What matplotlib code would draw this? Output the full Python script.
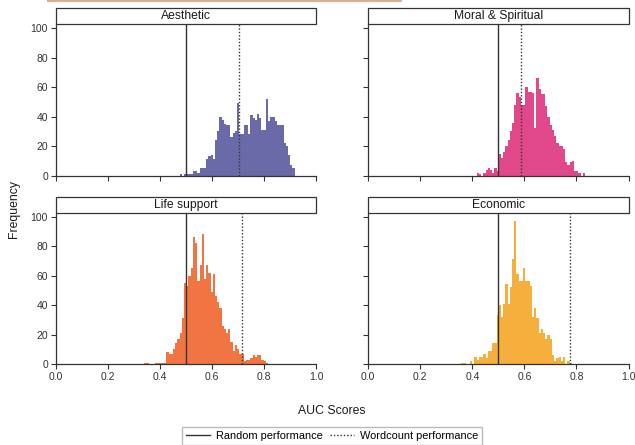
import numpy as np
import matplotlib
matplotlib.use('Agg')
import matplotlib.pyplot as plt
from matplotlib.patches import Rectangle
from matplotlib.lines import Line2D

plt.rcParams['font.family'] = ['Liberation Sans', 'DejaVu Sans']

# Data: histogram counts of AUC scores, shared bins (edges = BIN_LO + k * BIN_W)
BIN_LO = 0.34
BIN_W = 0.0085

panels = ['Aesthetic', 'Moral & Spiritual', 'Life support', 'Economic']
first_bin = [16, 9, 0, 2]

aesthetic = [1, 0, 1, 1, 1, 1, 3, 3, 2, 5, 5, 5, 11, 13, 14, 11, 24, 30, 40, 38,
             35, 34, 34, 26, 29, 30, 49, 28, 28, 34, 34, 28, 41, 39, 38, 42, 39,
             31, 31, 52, 37, 40, 40, 37, 34, 34, 34, 22, 20, 14, 7, 5]
moral = [2, 1, 0, 2, 4, 5, 4, 2, 5, 3, 15, 12, 16, 20, 24, 30, 36, 48, 56, 53,
         48, 48, 60, 57, 57, 56, 32, 66, 59, 55, 55, 47, 40, 34, 31, 27, 22, 20,
         20, 18, 9, 7, 9, 10, 3, 3, 2, 0, 2]
life_support = [1, 1, 0, 0, 0, 1, 1, 1, 1, 1, 8, 7, 7, 10, 14, 17, 21, 31, 55,
                53, 60, 65, 86, 82, 56, 67, 88, 58, 67, 62, 49, 61, 46, 42, 38,
                26, 24, 21, 24, 15, 9, 13, 10, 7, 7, 2, 3, 3, 4, 6, 5, 6, 6, 3,
                2, 1]
economic = [1, 1, 0, 0, 2, 0, 5, 3, 5, 5, 7, 4, 9, 9, 14, 14, 33, 40, 32, 41,
            54, 41, 52, 71, 97, 61, 56, 56, 65, 56, 56, 53, 32, 38, 31, 21, 24,
            21, 17, 20, 17, 6, 2, 4, 5, 2, 5, 0, 2, 1]
counts = [aesthetic, moral, life_support, economic]

random_auc = 0.5
wordcount_auc = [0.705, 0.586, 0.717, 0.777]

colors = ['#6b6aa8', '#e0488a', '#f07542', '#f6af3d']
x_ticks = [0.0, 0.2, 0.4, 0.6, 0.8, 1.0]
y_ticks = [0, 20, 40, 60, 80, 100]

dark = '#333333'
dots = (0, (1, 1.4))

# Layout in pixels (figure is 635 x 445)
W, H = 635, 445
fig = plt.figure(figsize=(W / 100, H / 100), dpi=100)
boxes = [(55.7, 316.0, 24.0, 175.7), (368.3, 628.5, 24.0, 175.7),
         (55.7, 316.0, 212.7, 364.0), (368.3, 628.5, 212.7, 364.0)]
strip_px = 15.8

for i, (x0, x1, yt, yb) in enumerate(boxes):
    ax = fig.add_axes([x0 / W, 1 - yb / H, (x1 - x0) / W, (yb - yt) / H])
    edges = BIN_LO + BIN_W * np.arange(first_bin[i], first_bin[i] + len(counts[i]) + 1)
    ax.stairs(counts[i], edges, fill=True, color=colors[i], lw=0)
    ax.axvline(random_auc, color=dark, lw=1.0)
    ax.axvline(wordcount_auc[i], color=dark, lw=1.0, ls=dots)

    ax.set_xlim(0, 1)
    ax.set_ylim(0, 102.7)
    ax.set_xticks(x_ticks)
    ax.set_yticks(y_ticks)
    ax.set_xticklabels([f'{t:.1f}' for t in x_ticks])
    for s in ['top', 'right']:
        ax.spines[s].set_visible(False)
    for s in ['left', 'bottom']:
        ax.spines[s].set_color(dark)
        ax.spines[s].set_linewidth(0.9)
    ax.tick_params(direction='out', length=3.5, width=0.8, color=dark,
                   labelsize=7.5, labelcolor=dark, pad=2)
    if i < 2:
        ax.tick_params(labelbottom=False)
    if i % 2 == 1:
        ax.tick_params(labelleft=False)

    # facet strip
    h = strip_px / (yb - yt)
    ax.add_patch(Rectangle((0, 1), 1, h, transform=ax.transAxes, facecolor='white',
                           edgecolor=dark, lw=0.9, clip_on=False))
    ax.text(0.5, 1 + h / 2, panels[i], transform=ax.transAxes, ha='center',
            va='center', fontsize=8.7, color='#1a1a1a')

fig.text(14 / W, 1 - 209 / H, 'Frequency', rotation=90, ha='center', va='center',
         fontsize=8.8, color='#1a1a1a')
fig.text(332 / W, 1 - 411 / H, 'AUC Scores', ha='center', va='center',
         fontsize=8.8, color='#1a1a1a')

handles = [Line2D([], [], color=dark, lw=1.0), Line2D([], [], color=dark, lw=1.0, ls=dots)]
fig.legend(handles, ['Random performance', 'Wordcount performance'], loc='center',
           bbox_to_anchor=(332 / W, 1 - 436 / H), ncol=2, fontsize=7.9, frameon=True,
           fancybox=False, edgecolor='#bbbbbb', framealpha=1, handlelength=2.2,
           handletextpad=0.5, columnspacing=0.7, borderpad=0.35)

# salmon band at the very top of the source image
fig.patches.append(Rectangle((47 / W, 1 - 2.2 / H), (402 - 47) / W, 2.2 / H,
                             transform=fig.transFigure, facecolor='#dfab95',
                             edgecolor='none'))

fig.savefig('out.png', dpi=100)
